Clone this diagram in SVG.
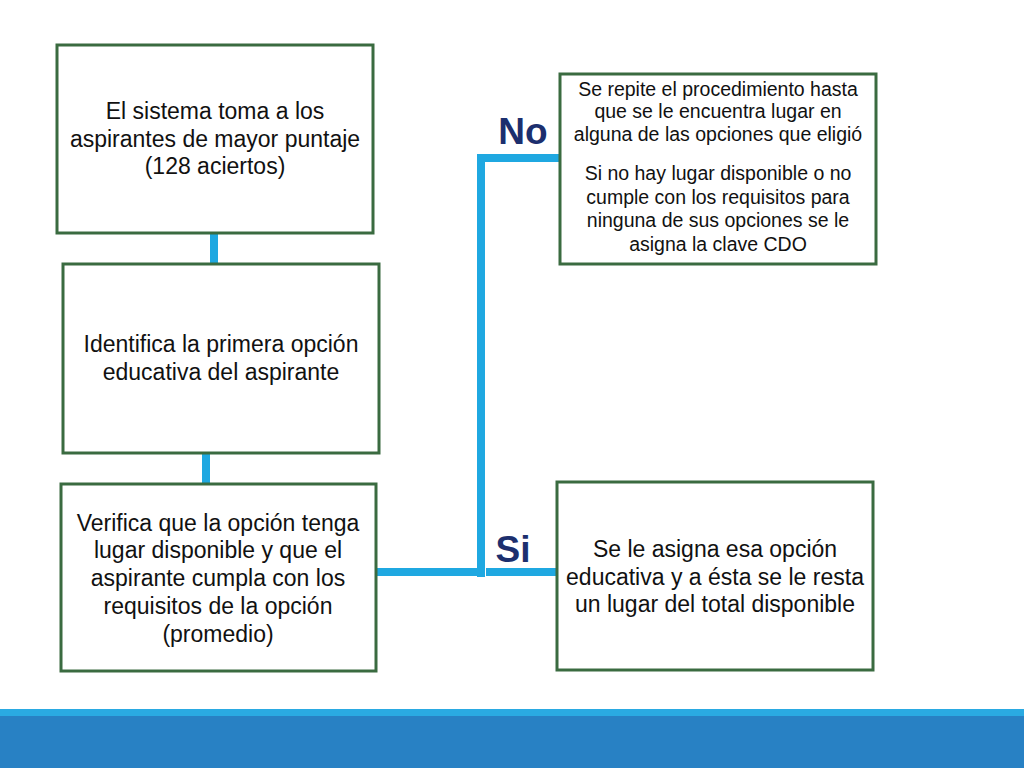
<svg xmlns="http://www.w3.org/2000/svg" width="1024" height="768" viewBox="0 0 1024 768">
<style>
.box{fill:#fff;stroke:#3a6b40;stroke-width:3}
.t{font-family:"Liberation Sans",Arial,sans-serif;font-size:23px;fill:#111;text-anchor:middle}
.s{font-family:"Liberation Sans",Arial,sans-serif;font-size:19.5px;fill:#111;text-anchor:middle}
.lbl{font-family:"Liberation Sans",Arial,sans-serif;font-size:37px;font-weight:bold;fill:#1c2f6e;text-anchor:middle}
.c{stroke:#1fa8e1;stroke-width:8;fill:none}
</style>
<rect width="1024" height="768" fill="#fff"/>
<g id="footer">
<rect x="0" y="709" width="1024" height="7" fill="#2aaae2"/>
<rect x="0" y="716" width="1024" height="52" fill="#2881c4"/>
</g>
<g id="connectors">
<line class="c" x1="214" y1="233" x2="214" y2="264"/>
<line class="c" x1="206" y1="453" x2="206" y2="484"/>
<line class="c" x1="376" y1="572" x2="478" y2="572"/>
<line class="c" x1="481" y1="154" x2="481" y2="577"/>
<line class="c" x1="477" y1="158" x2="560" y2="158"/>
<line class="c" x1="486" y1="572" x2="557" y2="572"/>
</g>
<g id="n1">
<rect class="box" x="57" y="45" width="316" height="188"/>
<text class="t" x="215" y="119">El sistema toma a los</text>
<text class="t" x="215" y="147">aspirantes de mayor puntaje</text>
<text class="t" x="215" y="174">(128 aciertos)</text>
</g>
<g id="n2">
<rect class="box" x="63" y="264" width="316" height="189"/>
<text class="t" x="221" y="352">Identifica la primera opción</text>
<text class="t" x="221" y="380">educativa del aspirante</text>
</g>
<g id="n3">
<rect class="box" x="61" y="484" width="315" height="187"/>
<text class="t" x="218" y="531">Verifica que la opción tenga</text>
<text class="t" x="218" y="558">lugar disponible y que el</text>
<text class="t" x="218" y="586">aspirante cumpla con los</text>
<text class="t" x="218" y="614">requisitos de la opción</text>
<text class="t" x="218" y="642">(promedio)</text>
</g>
<g id="n4">
<rect class="box" x="560" y="74" width="316" height="190"/>
<text class="s" x="718" y="96">Se repite el procedimiento hasta</text>
<text class="s" x="718" y="118">que se le encuentra lugar en</text>
<text class="s" x="718" y="141">alguna de las opciones que eligió</text>
<text class="s" x="718" y="180">Si no hay lugar disponible  o no</text>
<text class="s" x="718" y="204">cumple con  los requisitos para</text>
<text class="s" x="718" y="227">ninguna de sus opciones  se le</text>
<text class="s" x="718" y="251">asigna la clave CDO</text>
</g>
<g id="n5">
<rect class="box" x="557" y="482" width="316" height="188"/>
<text class="t" x="715" y="557">Se le asigna esa opción</text>
<text class="t" x="715" y="585">educativa y a ésta se le resta</text>
<text class="t" x="715" y="612">un lugar del total disponible</text>
</g>
<g id="labels">
<text class="lbl" x="523" y="144">No</text>
<text class="lbl" x="513" y="562">Si</text>
</g>
</svg>
